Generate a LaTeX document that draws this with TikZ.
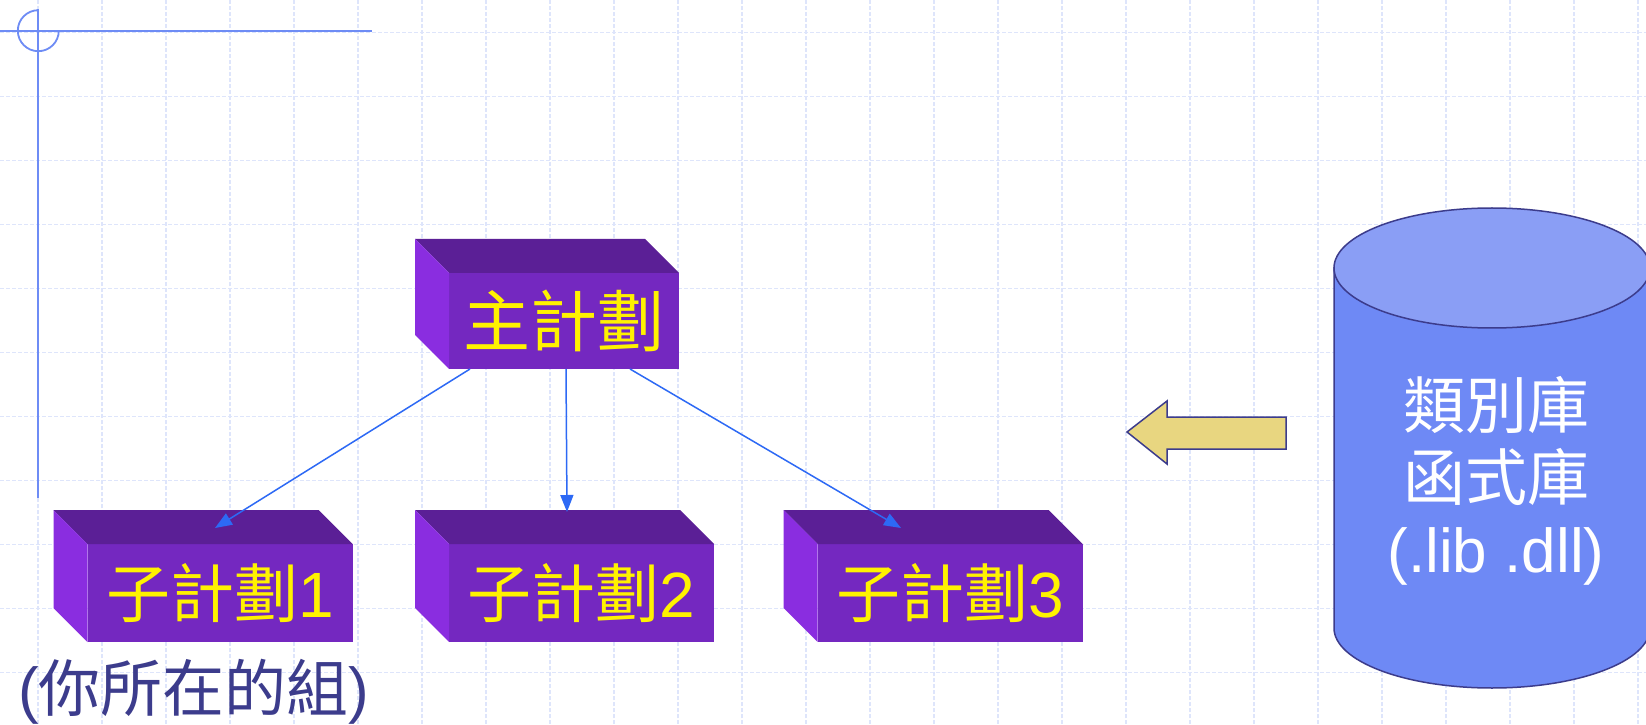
\documentclass[tikz,border=0pt]{standalone}
\usepackage{fontspec}
\setmainfont{Liberation Sans}
\newfontfamily\cjk{Noto Sans CJK TC}
\usetikzlibrary{arrows.meta,calc}
\definecolor{gridc}{RGB}{222,229,251}
\definecolor{decob}{RGB}{110,140,245}
\definecolor{ptop}{RGB}{91,31,150}
\definecolor{pfront}{RGB}{116,40,192}
\definecolor{pside}{RGB}{138,45,224}
\definecolor{connc}{RGB}{45,105,245}
\definecolor{navy}{RGB}{60,60,140}
\definecolor{goldf}{RGB}{232,214,128}
\definecolor{cyltop}{RGB}{138,158,245}
\definecolor{cylbody}{RGB}{110,137,245}
\newcommand\boxfaces[1]{%
  \fill[topface] (#1.north west) -- ++(-34,34) -- ($(#1.north east)+(-34,34)$) -- (#1.north east) -- cycle;
  \fill[sideface] (#1.north west) -- ++(-34,34) -- ($(#1.south west)+(-34,34)$) -- (#1.south west) -- cycle;
}
\begin{document}
\begin{tikzpicture}[x=1pt,y=1pt,
  gridline/.style={gridc, line width=1.5pt, dash pattern=on 4pt off 2pt},
  deco/.style={decob, line width=1.8pt},
  front/.style={fill=pfront, minimum width=#1, minimum height=98, inner sep=0pt, outer sep=0pt, text=yellow, font=\fontsize{64}{72}\selectfont},
  topface/.style={fill=ptop},
  sideface/.style={fill=pside},
  connline/.style={draw=connc, line width=1.5pt, -{Triangle[length=17pt,width=13pt]}},
  bigarrow/.style={draw=navy, line width=1.5pt, fill=goldf, line join=miter},
  cyl/.style={draw=navy, line width=1.5pt},
  bigtext/.style={font=\fontsize{62}{72}\selectfont}
]
\useasboundingbox (0,0) rectangle (1646,724);
\clip (0,0) rectangle (1646,724);
\fill[white] (0,0) rectangle (1646,724);
% grid
\foreach \k in {0,...,25} \draw[gridline] ({38+64*\k},0) -- ({38+64*\k},724);
\foreach \k in {0,...,10} \draw[gridline] (0,{691.5-64*\k}) -- (1646,{691.5-64*\k});
% template decoration
\draw[deco] (0,693.3) -- (372,693.3);
\draw[deco] (38.3,714.7) -- (38.3,226);
\draw[deco] (38.3,713.8) arc[start angle=90,end angle=360,radius=20.5];
% boxes
\node[front=230, minimum height=96, font=\fontsize{67}{72}\selectfont] (main) at (564,403) {\cjk 主計劃};
\boxfaces{main}
\node[front=265] (sub1) at (220,131) {{\cjk 子計劃}1};
\boxfaces{sub1}
\node[front=265] (sub2) at (581.5,131) {{\cjk 子計劃}2};
\boxfaces{sub2}
\node[front=265] (sub3) at (950,131) {{\cjk 子計劃}3};
\boxfaces{sub3}
% connectors
\coordinate (t1) at ($(sub1.north)+(-5,16)$);
\coordinate (t2) at ($(sub2.north)+(-14.5,32)$);
\coordinate (t3) at ($(sub3.north)+(-49,16)$);
\draw[connline] ($(main.south)+(-94,0)$) -- (t1);
\draw[connline] ($(main.south)+(2,0)$) -- (t2);
\draw[connline] ($(main.south)+(66,0)$) -- (t3);
% caption
\node[text=navy, bigtext] (grp) at (194,32) {({\cjk 你所在的組})};
% big arrow
\draw[bigarrow] (1286,307) -- (1167,307) -- (1167,323) -- (1127,292) -- (1167,260) -- (1167,275) -- (1286,275) -- cycle;
% cylinder
\path[cyl, fill=cylbody] (1334,456) -- (1334,96) arc[start angle=180, end angle=360, x radius=158, y radius=60] -- (1650,456) -- cycle;
\draw[cyl, fill=cyltop] (1492,456) ellipse [x radius=158, y radius=60];
\node[text=white, align=center, bigtext] (lib) at (1496,243) {{\cjk 類別庫}\\{\cjk 函式庫}\\(.lib .dll)};
\end{tikzpicture}
\end{document}
